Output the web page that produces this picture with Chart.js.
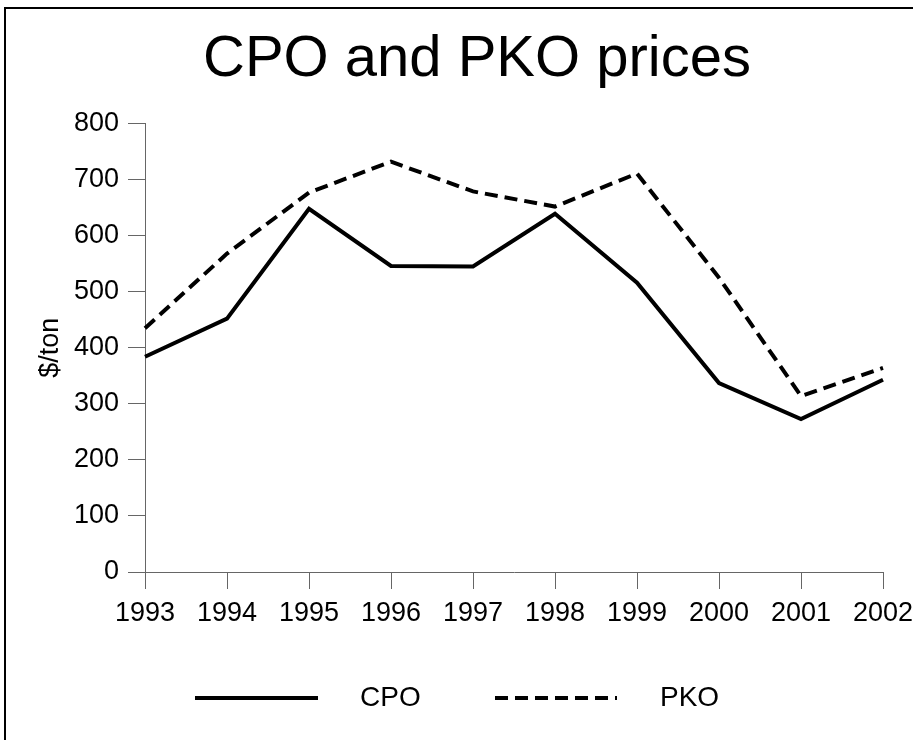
<!DOCTYPE html>
<html>
<head>
<meta charset="utf-8">
<script src="https://cdn.jsdelivr.net/npm/chart.js@4/dist/chart.umd.min.js"></script>
<style>
  html, body { margin: 0; padding: 0; background: #fff; overflow: hidden; }
  #frame { position: absolute; left: 4px; top: 7px; width: 1000px; height: 1000px; border: 2px solid #000; }
  #wrap { position: absolute; left: 0; top: 0; width: 913px; height: 740px; }
</style>
</head>
<body>
<div id="frame"></div>
<div id="wrap"><canvas id="chart" width="913" height="740"></canvas></div>
<script>
const years = ['1993', '1994', '1995', '1996', '1997', '1998', '1999', '2000', '2001', '2002'];
const cpo = [384, 452, 648, 546, 545, 639, 516, 337, 273, 343];
const pko = [435, 568, 677, 732, 679, 652, 711, 525, 314, 364];

const FONT = 'Liberation Sans, Arial, sans-serif';

// legend drawn by hand so the line lengths and gaps match the original
const lineLegend = {
    id: 'lineLegend',
    afterDraw(chart) {
        const ctx = chart.ctx;
        const spots = [
            { x1: 195, x2: 318, tx: 360 },
            { x1: 495, x2: 617, tx: 660 }
        ];
        const y = 698;
        chart.data.datasets.forEach((ds, i) => {
            const s = spots[i];
            ctx.save();
            ctx.strokeStyle = ds.borderColor;
            ctx.lineWidth = ds.borderWidth;
            ctx.setLineDash(ds.borderDash || []);
            ctx.beginPath();
            ctx.moveTo(s.x1, y);
            ctx.lineTo(s.x2, y);
            ctx.stroke();
            ctx.setLineDash([]);
            ctx.fillStyle = '#000';
            ctx.font = '28px ' + FONT;
            ctx.textBaseline = 'middle';
            ctx.fillText(ds.label, s.tx, y);
            ctx.restore();
        });
    }
};

const ctx = document.getElementById('chart').getContext('2d');

new Chart(ctx, {
    type: 'line',
    data: {
        labels: years,
        datasets: [{
            label: 'CPO',
            data: cpo,
            borderColor: '#000',
            borderWidth: 4,
            pointRadius: 0,
            tension: 0
        }, {
            label: 'PKO',
            data: pko,
            borderColor: '#000',
            borderWidth: 4,
            borderDash: [13, 7],
            pointRadius: 0,
            tension: 0
        }]
    },
    options: {
        responsive: false,
        animation: false,
        // left padding shifts the title centre to the right like the original
        layout: { padding: { left: 71, right: 30, top: 0, bottom: 0 } },
        scales: {
            x: {
                type: 'category',
                offset: false,
                grid: {
                    drawOnChartArea: false,
                    drawTicks: true,
                    tickLength: 17,
                    color: '#666',
                    offset: false
                },
                border: { color: '#666', width: 1 },
                ticks: {
                    color: '#000',
                    font: { family: FONT, size: 27 },
                    padding: 8,
                    maxRotation: 0,
                    autoSkip: false
                },
                afterFit(scale) {
                    scale.height = 168;
                    // let the last label run to the edge, as in the original
                    scale.paddingRight = 0;
                }
            },
            y: {
                min: 0,
                max: 800,
                grid: {
                    drawOnChartArea: false,
                    drawTicks: true,
                    tickLength: 17,
                    color: '#666'
                },
                border: { color: '#666', width: 1 },
                ticks: {
                    stepSize: 100,
                    color: '#000',
                    font: { family: FONT, size: 27 },
                    padding: 9
                },
                title: {
                    display: true,
                    text: '$/ton',
                    color: '#000',
                    font: { family: FONT, size: 27 },
                    padding: { top: -37, bottom: 0 }
                },
                afterFit(scale) { scale.width = 74; }
            }
        },
        plugins: {
            legend: { display: false },
            tooltip: { enabled: false },
            title: {
                display: true,
                text: 'CPO and PKO prices',
                color: '#000',
                font: { family: FONT, size: 58, weight: 'normal' },
                padding: { top: 25, bottom: 29 }
            }
        }
    },
    plugins: [lineLegend]
});
</script>
</body>
</html>
